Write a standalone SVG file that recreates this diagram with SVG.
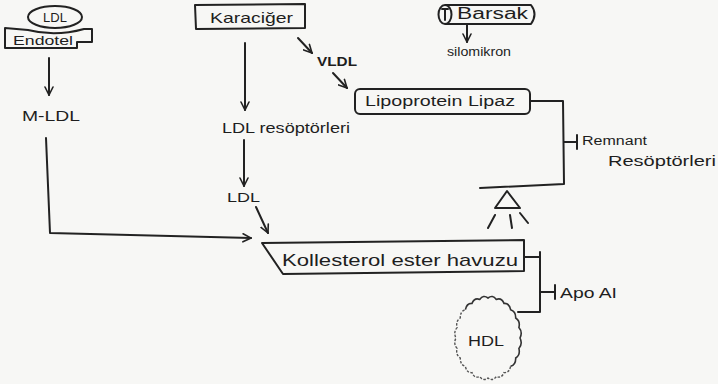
<svg xmlns="http://www.w3.org/2000/svg" width="718" height="384" viewBox="0 0 718 384">
<defs>
<marker id="arr" viewBox="0 0 10 10" refX="9" refY="5" markerWidth="10" markerHeight="10" markerUnits="userSpaceOnUse" orient="auto">
<path d="M1,1 L9,5 L1,9" fill="none" stroke="#222" stroke-width="1.6" stroke-linecap="round"/>
</marker>
<style>
.s{fill:none;stroke:#222;stroke-width:2;stroke-linecap:round;stroke-linejoin:round}
.b{fill:#f7f7f5;stroke:#222;stroke-width:2;stroke-linejoin:round}
.t{font-family:"Liberation Sans","DejaVu Sans",sans-serif;fill:#1e1e1e}
.c{stroke:#222;stroke-width:2;fill:none;stroke-linecap:round;stroke-linejoin:round}
.a{marker-end:url(#arr)}
</style>
</defs>
<rect x="0" y="0" width="718" height="384" fill="#f7f7f5"/>

<g id="connectors">
<path class="c a" d="M49,58 L49,95"/>
<path class="c a" d="M46,138 L50,233 L251,238"/>
<path class="c a" d="M245,43 L245,110"/>
<path class="c a" d="M244,140 L244,186"/>
<path class="c a" d="M256,207 L268,233"/>
<path class="c a" d="M298,38 L312,53"/>
<path class="c a" d="M333,73 L347,88"/>
<path class="c a" d="M467,24 L467,42"/>
<path class="c" d="M530,101 L563,101 L564,184 L480,188"/>
<path class="c" d="M564,142 L577,142 M577,135 L577,149"/>
<path class="c" d="M524,257 L540,257 M540,252 L540,312 L518,312"/>
<path class="c" d="M540,292 L555,292 M555,285 L555,299"/>
</g>

<g id="ldl-endotel">
<path class="b" d="M5,28 L28,30 Q55,37 84,29 L92,29 L92,42 L77,42 L77,48 L5,48 Z"/>
<ellipse class="b" cx="55" cy="17" rx="27" ry="11"/>
<text class="t" x="55" y="22" font-size="13" text-anchor="middle">LDL</text>
<text class="t" x="13" y="45" font-size="13" textLength="60" lengthAdjust="spacingAndGlyphs">Endotel</text>
</g>

<g id="m-ldl">
<text class="t" x="22" y="121" font-size="15" textLength="58" lengthAdjust="spacingAndGlyphs">M-LDL</text>
</g>

<g id="karaciger">
<path class="b" d="M195,5 L305,4 L305,28 L196,29 Z"/>
<text class="t" x="210" y="23" font-size="15" textLength="83" lengthAdjust="spacingAndGlyphs">Karaciğer</text>
</g>

<g id="vldl">
<text class="t" x="317" y="66" font-size="13" font-weight="bold" textLength="40" lengthAdjust="spacingAndGlyphs">VLDL</text>
</g>

<g id="barsak">
<path class="b" d="M445,5 L531,5 Q538,14 531,24 L445,24"/>
<ellipse class="b" cx="445" cy="14.5" rx="6.5" ry="9.5"/>
<path class="s" d="M445,9 L445,20 M442,9 L448,9" stroke-width="1.5"/>
<text class="t" x="457" y="19" font-size="16" textLength="71" lengthAdjust="spacingAndGlyphs">Barsak</text>
</g>

<g id="silomikron">
<text class="t" x="447" y="56" font-size="13" textLength="64" lengthAdjust="spacingAndGlyphs">silomikron</text>
</g>

<g id="lipoprotein-lipaz">
<rect class="b" x="355" y="89" width="175" height="25" rx="5"/>
<text class="t" x="365" y="106" font-size="14" textLength="150" lengthAdjust="spacingAndGlyphs">Lipoprotein Lipaz</text>
</g>

<g id="ldl-reseptorleri">
<text class="t" x="222" y="133" font-size="14" textLength="128" lengthAdjust="spacingAndGlyphs">LDL resöptörleri</text>
</g>

<g id="ldl">
<text class="t" x="227" y="202" font-size="13" textLength="33" lengthAdjust="spacingAndGlyphs">LDL</text>
</g>

<g id="remnant-reseptorleri">
<text class="t" x="582" y="145" font-size="12" textLength="65" lengthAdjust="spacingAndGlyphs">Remnant</text>
<text class="t" x="608" y="166" font-size="14" textLength="108" lengthAdjust="spacingAndGlyphs">Resöptörleri</text>
</g>

<g id="lipaz-lamp">
<path class="s" d="M507,191 L520,208 L495,208 Z"/>
<path class="s" d="M495,215 L488,228 M510,215 L512,228 M520,213 L528,223"/>
</g>

<g id="kollesterol-ester-havuzu">
<path class="b" d="M262,243 L524,240 L524,271 L283,274 Z"/>
<text class="t" x="282" y="266" font-size="17" textLength="236" lengthAdjust="spacingAndGlyphs">Kollesterol ester havuzu</text>
</g>

<g id="apo-ai">
<text class="t" x="560" y="298" font-size="15" textLength="57" lengthAdjust="spacingAndGlyphs">Apo AI</text>
</g>

<g id="hdl">
<path d="M465.4,309.7 Q466.6,303.1 472,303.4 Q474.5,297.3 479.7,299.4 Q483.4,294.4 488,298 Q492.6,294.4 496.3,299.4 Q501.5,297.3 504,303.4 Q509.4,303.1 510.6,309.7 Q515.9,311.2 515.7,318 Q520.5,321.1 518.9,327.6 Q522.9,332.2 520,338 Q522.9,343.8 518.9,348.4 Q520.5,354.9 515.7,358 Q515.9,364.8 510.6,366.3" fill="none" stroke="#333" stroke-width="1.6"/>
<path d="M510.6,366.3 Q509.4,372.9 504,372.6 Q501.5,378.7 496.3,376.6 Q492.6,381.6 488,378 Q483.4,381.6 479.7,376.6 Q474.5,378.7 472,372.6 Q466.6,372.9 465.4,366.3 Q460.1,364.8 460.3,358 Q455.5,354.9 457.1,348.4 Q453.1,343.8 456,338 Q453.1,332.2 457.1,327.6 Q455.5,321.1 460.3,318 Q460.1,311.2 465.4,309.7" fill="none" stroke="#555" stroke-width="1.4" stroke-dasharray="2.5 1.5"/>
<text class="t" x="486" y="346" font-size="15" text-anchor="middle" textLength="36" lengthAdjust="spacingAndGlyphs">HDL</text>
</g>
</svg>
